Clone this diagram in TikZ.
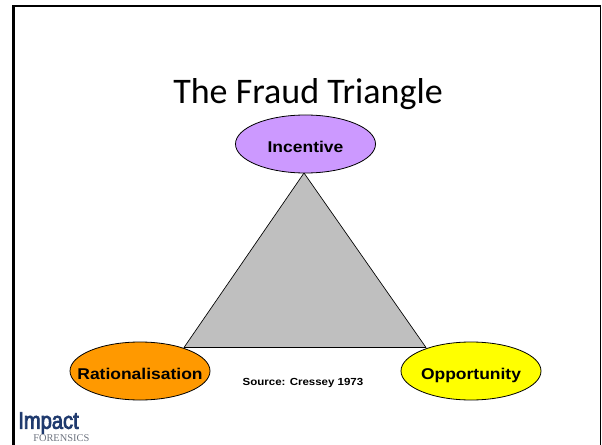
\documentclass[tikz,border=0pt]{standalone}
\usepackage{fontspec}
\setmainfont{Carlito}
\newfontfamily\arialf{Liberation Sans}[FakeStretch=1.12]
\newfontfamily\logof{Liberation Sans}[FakeStretch=0.84,FakeBold=3]
\newfontfamily\logoserif{Liberation Serif}
\usetikzlibrary{shapes.geometric}
\definecolor{purp}{HTML}{CC99FF}
\definecolor{orng}{HTML}{FF9900}
\definecolor{yel}{HTML}{FFFF00}
\definecolor{tri}{HTML}{BFBFBF}
\definecolor{logob}{HTML}{1F3A6E}
\definecolor{logog}{HTML}{6E7480}
\newcommand{\ovaltext}[1]{\raisebox{-6.4pt}[0pt][0pt]{\makebox[0pt]{#1}}}
\tikzset{
  px/.style={x=0.75pt,y=-0.75pt},
  oval/.style={ellipse,draw=black,line width=0.6pt,minimum width=105pt,minimum height=43.5pt,inner sep=0pt,font=\arialf\bfseries\fontsize{11.7}{13}\selectfont},
  frameline/.style={line cap=butt,line join=miter},
}
\begin{document}
\begin{tikzpicture}[px]
\useasboundingbox (0,0) rectangle (602,445);
\fill[white] (0,0) rectangle (602,445);
\draw[frameline,line width=2.1pt] (13.5,447) -- (13.5,6);
\draw[frameline,line width=1.5pt] (12,6) -- (601,6);
\draw[frameline,line width=1.1pt] (600.5,5) -- (600.5,447);
\node (title) at (308,94) {\fontsize{27}{32}\selectfont The Fraud Triangle};
\coordinate (apex) at (304,173);
\coordinate (bl) at (184,347.5);
\coordinate (br) at (426,347.5);
\draw[fill=tri,line width=0.5pt,line join=round] (apex) -- (bl) -- (br) -- cycle;
\node[oval,fill=purp] (inc) at (305.5,144) {\ovaltext{Incentive}};
\node[oval,fill=orng] (rat) at (140,371) {\ovaltext{Rationalisation}};
\node[oval,fill=yel] (opp) at (471,371) {\ovaltext{Opportunity}};
\node[font=\arialf\bfseries\fontsize{7.7}{9}\selectfont] (src) at (303,383) {Source: Cressey 1973};
\node[font=\logof\fontsize{18}{19}\selectfont,text=logob,anchor=west,inner sep=0pt] (logo) at (18,423) {Impact};
\node[font=\logoserif\fontsize{7.8}{8}\selectfont,text=logog,anchor=west,inner sep=0pt] (logo2) at (33,438) {FORENSICS};
\end{tikzpicture}
\end{document}
